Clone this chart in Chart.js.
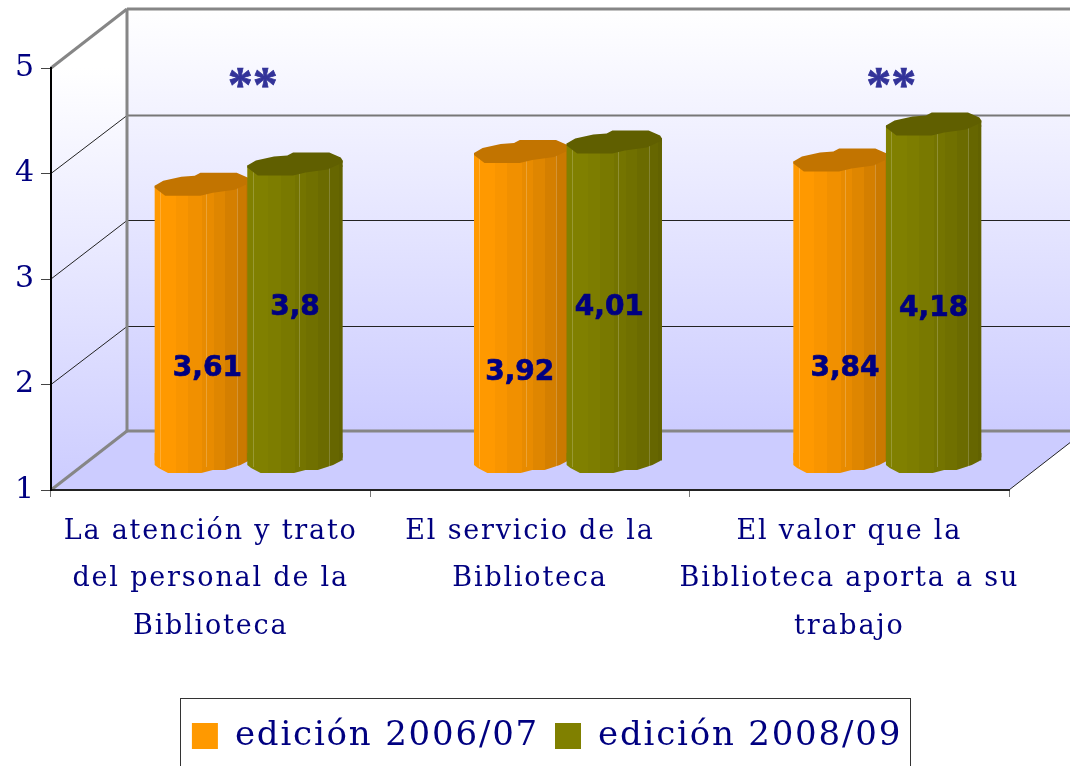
<!DOCTYPE html>
<html>
<head>
<meta charset="utf-8">
<style>
  html, body { margin: 0; padding: 0; background: #fff; overflow: hidden; }
  canvas { display: block; }
</style>
<script src="https://cdn.jsdelivr.net/npm/chart.js@4/dist/chart.umd.min.js"></script>
</head>
<body>
<canvas id="chart" width="1070" height="766"></canvas>
<script>
const categories = [
  ["La atención y trato", "del personal de la", "Biblioteca"],
  ["El servicio de la", "Biblioteca"],
  ["El valor que la", "Biblioteca aporta a su", "trabajo"]
];
const seriesNames = ["edición 2006/07", "edición 2008/09"];
const values2006 = [3.61, 3.92, 3.84];
const values2008 = [3.8, 4.01, 4.18];
const starredCategories = [0, 2];

const NAVY = "#000080";
const DEPTH_X = 76;
const DEPTH_Y = -59;
const BAR_X = 38;
const BAR_Y = -29;
const CATEGORY_PCT = 0.58;
const BAR_PCT = 1.03;

const facetEdges = [0, 0.22, 0.35, 0.5, 0.62, 0.74, 0.86, 0.96, 1];
const facetShades = [0, 0.1, 0.22, 0.36, 0.5, 0.66, 0.82, 0.95];
const ridges = [0.055, 0.54, 0.86];
const seriesStyles = [
  { from: [255, 153, 0], to: [190, 114, 0], cap: "#c27400", swatch: "#ff9900", labelY: [369, 373, 369], labelShift: [5, -2, 4] },
  { from: [128, 128, 0], to: [96, 96, 0], cap: "#605f00", swatch: "#808000", labelY: [308, 308, 309], labelShift: [0, -5, 0] }
];

// outline of the top and the foot of a bar: [fraction of width, px from bar end]
const capOutline = [
  [0, 0], [0.09, -5], [0.28, -9], [0.42, -10], [0.48, -13], [0.86, -13], [0.98, -8], [1, -5],
  [1, -3], [0.84, 4], [0.61, 7], [0.48, 10], [0.11, 10], [0, 2]
];
const footOutline = [
  [0, -8], [1, -8], [1, -4], [0.98, 0], [0.9, 4], [0.74, 9], [0.61, 9], [0.49, 12], [0.14, 12], [0.04, 7], [0, 4]
];

function facetGradient(ctx, left, width, style) {
  const g = ctx.createLinearGradient(left, 0, left + width, 0);
  facetShades.forEach((t, i) => {
    const c = style.from.map((v, k) => Math.round(v + (style.to[k] - v) * t));
    const color = `rgb(${c[0]},${c[1]},${c[2]})`;
    g.addColorStop(facetEdges[i], color);
    g.addColorStop(facetEdges[i + 1], color);
  });
  return g;
}

function barFill(context) {
  const style = seriesStyles[context.datasetIndex];
  if (context.dataIndex === undefined) return style.swatch;
  const xScale = context.chart.scales.x;
  const catWidth = xScale.width / categories.length;
  const slot = catWidth * CATEGORY_PCT / 2;
  const center = xScale.getPixelForValue(context.dataIndex) + (context.datasetIndex - 0.5) * slot;
  const width = slot * BAR_PCT;
  return facetGradient(context.chart.ctx, center - width / 2, width, style);
}

function tracePolygon(ctx, outline, left, width, y) {
  ctx.beginPath();
  outline.forEach((p, i) => {
    const px = left + p[0] * width;
    if (i === 0) ctx.moveTo(px, y + p[1]);
    else ctx.lineTo(px, y + p[1]);
  });
  ctx.closePath();
}

function line(ctx, x1, y1, x2, y2, color, width) {
  ctx.strokeStyle = color;
  ctx.lineWidth = width;
  ctx.beginPath();
  ctx.moveTo(x1, y1);
  ctx.lineTo(x2, y2);
  ctx.stroke();
}

const wallsPlugin = {
  id: "walls",
  beforeUpdate(chart) {
    chart.ctx.letterSpacing = "1.8px";
  },
  afterLayout(chart) {
    const legend = chart.legend;
    const w = legend.right - legend.left;
    legend.left = 547 - w / 2;
    legend.right = 547 + w / 2;
    legend.top -= 3;
  },
  beforeDraw(chart) {
    const ctx = chart.ctx;
    const { left, right, bottom } = chart.chartArea;
    const y = chart.scales.y;
    const top = y.getPixelForValue(5);
    const base = y.getPixelForValue(1);

    ctx.save();
    ctx.fillStyle = "#fff";
    ctx.fillRect(0, 0, chart.width, chart.height);

    const wall = ctx.createLinearGradient(0, top + DEPTH_Y, 0, base + DEPTH_Y);
    wall.addColorStop(0, "#ffffff");
    wall.addColorStop(1, "#ccccff");
    ctx.fillStyle = wall;
    ctx.fillRect(left + DEPTH_X, top + DEPTH_Y, right - left, base - top);

    const side = ctx.createLinearGradient(0, top, 0, base);
    side.addColorStop(0, "#ffffff");
    side.addColorStop(1, "#ccccff");
    ctx.fillStyle = side;
    ctx.beginPath();
    ctx.moveTo(left, top);
    ctx.lineTo(left + DEPTH_X, top + DEPTH_Y);
    ctx.lineTo(left + DEPTH_X, base + DEPTH_Y);
    ctx.lineTo(left, base);
    ctx.closePath();
    ctx.fill();

    ctx.fillStyle = "#ccccff";
    ctx.beginPath();
    ctx.moveTo(left, bottom);
    ctx.lineTo(left + DEPTH_X, bottom + DEPTH_Y);
    ctx.lineTo(right + DEPTH_X, bottom + DEPTH_Y);
    ctx.lineTo(right, bottom);
    ctx.closePath();
    ctx.fill();

    y.ticks.forEach(tick => {
      const py = y.getPixelForValue(tick.value);
      if (tick.value > 1 && tick.value < 5) {
        const wallY = Math.round(py + DEPTH_Y) + 0.5;
        const color = tick.value === 4 ? "#777" : "#222";
        line(ctx, left, py, left + DEPTH_X, wallY, "#222", 1);
        line(ctx, left + DEPTH_X, wallY, right + DEPTH_X, wallY, color, tick.value === 4 ? 2 : 1);
      }
    });
    const gray = "#868686";
    line(ctx, left, top, left + DEPTH_X, top + DEPTH_Y, gray, 3);
    line(ctx, left + DEPTH_X, top + DEPTH_Y, right + DEPTH_X, top + DEPTH_Y, gray, 3);
    line(ctx, left + DEPTH_X, top + DEPTH_Y, left + DEPTH_X, base + DEPTH_Y, gray, 3);
    line(ctx, left + DEPTH_X, base + DEPTH_Y, right + DEPTH_X, base + DEPTH_Y, gray, 3);
    line(ctx, left, base, left + DEPTH_X, base + DEPTH_Y, gray, 3);
    line(ctx, right, base, right + DEPTH_X, base + DEPTH_Y, "#222", 1);
    ctx.restore();
  },
  beforeDatasetsDraw(chart) {
    const ctx = chart.ctx;
    const yBase = chart.scales.y.getPixelForValue(1);

    ctx.save();
    ctx.translate(BAR_X, BAR_Y);
    seriesStyles.forEach((style, index) => {
      const meta = chart.getDatasetMeta(index);
      meta.data.forEach(bar => {
        const left = bar.x - bar.width / 2;
        ctx.fillStyle = facetGradient(ctx, left, bar.width, style);
        tracePolygon(ctx, footOutline, left, bar.width, yBase);
        ctx.fill();
      });
      meta.controller.draw();
      meta.data.forEach(bar => {
        const left = bar.x - bar.width / 2;
        ctx.fillStyle = facetGradient(ctx, left, bar.width, style);
        ctx.fillRect(left + bar.width * 0.7, bar.y - 5, bar.width * 0.3, 6);
        ridges.forEach(r => {
          const rx = Math.round(left + r * bar.width) + 0.5;
          line(ctx, rx, bar.y, rx, yBase + 6, "rgba(255,255,255,0.2)", 1);
        });
        ctx.fillStyle = style.cap;
        tracePolygon(ctx, capOutline, left, bar.width, bar.y);
        ctx.fill();
      });
    });
    ctx.restore();

    ctx.save();
    ctx.textAlign = "center";
    ctx.textBaseline = "middle";
    ctx.fillStyle = NAVY;
    ctx.strokeStyle = NAVY;
    ctx.lineWidth = 0.7;
    ctx.font = "bold 28px 'DejaVu Sans'";
    ctx.letterSpacing = "0px";
    seriesStyles.forEach((style, index) => {
      const meta = chart.getDatasetMeta(index);
      chart.data.datasets[index].data.forEach((value, i) => {
        const text = String(value).replace(".", ",");
        const x = meta.data[i].x + BAR_X + style.labelShift[i];
        ctx.fillText(text, x, style.labelY[i]);
        ctx.strokeText(text, x, style.labelY[i]);
      });
    });
    ctx.fillStyle = "#333399";
    ctx.strokeStyle = "#333399";
    ctx.font = "bold 50px 'Liberation Serif'";
    starredCategories.forEach(i => {
      const x = chart.scales.x.getPixelForValue(i) + 42;
      ctx.fillText("**", x, 88);
      ctx.strokeText("**", x, 88);
    });
    ctx.restore();

    // legend frame
    ctx.save();
    ctx.strokeStyle = "#333";
    ctx.lineWidth = 1;
    ctx.strokeRect(180.5, 698.5, 730, 90);
    ctx.restore();
    return false;
  }
};

new Chart(document.getElementById("chart"), {
  type: "bar",
  data: {
    labels: categories,
    datasets: [
      { label: seriesNames[0], data: values2006, base: 1, backgroundColor: barFill },
      { label: seriesNames[1], data: values2008, base: 1, backgroundColor: barFill }
    ]
  },
  options: {
    responsive: false,
    animation: false,
    categoryPercentage: CATEGORY_PCT,
    barPercentage: BAR_PCT,
    layout: { padding: { top: 68, right: 61, bottom: 0, left: 0 } },
    plugins: {
      tooltip: { enabled: false },
      legend: {
        position: "bottom",
        labels: {
          boxWidth: 26,
          boxHeight: 26,
          padding: 16,
          color: NAVY,
          font: { family: "'DejaVu Serif'", size: 34 },
          generateLabels: () => seriesNames.map((name, i) => ({
            text: name,
            fillStyle: seriesStyles[i].swatch,
            strokeStyle: seriesStyles[i].swatch,
            lineWidth: 0,
            fontColor: NAVY,
            datasetIndex: i
          }))
        }
      }
    },
    scales: {
      x: {
        afterFit: scale => { scale.height = 216; },
        grid: { drawOnChartArea: false, tickLength: 7, tickColor: "#777", offset: true },
        border: { color: "#222", width: 2 },
        ticks: {
          autoSkip: false,
          maxRotation: 0,
          padding: 11,
          color: NAVY,
          font: { family: "'DejaVu Serif'", size: 27, lineHeight: 1.76 }
        }
      },
      y: {
        min: 1,
        max: 5,
        afterFit: scale => { scale.width = 51; },
        grid: { drawOnChartArea: false, tickLength: 10, tickColor: "#444" },
        border: { color: "#000", width: 2 },
        ticks: {
          stepSize: 1,
          padding: 5,
          color: NAVY,
          font: { family: "'DejaVu Serif'", size: 30 }
        }
      }
    }
  },
  plugins: [wallsPlugin]
});
</script>
</body>
</html>
